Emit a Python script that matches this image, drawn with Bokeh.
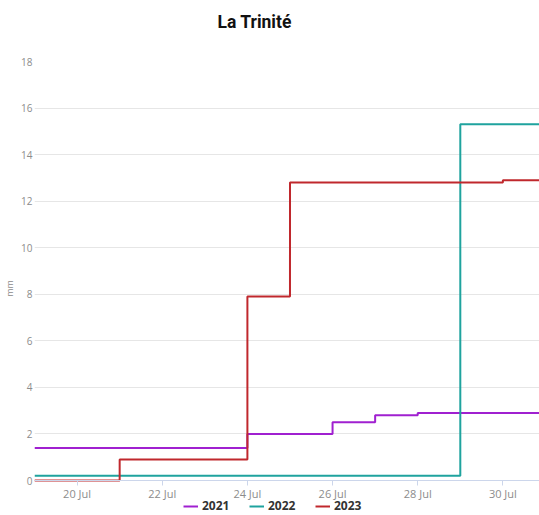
from datetime import datetime, timedelta
from bokeh.plotting import figure
from bokeh.models import (Range1d, FixedTicker, DatetimeTickFormatter, Legend, LegendItem, Title)
from bokeh.embed import file_html
from bokeh.resources import INLINE

# ---- data ----
dates = [datetime(2023, 7, d) for d in range(19, 32)]
rain_2021 = [1.4, 1.4, 1.4, 1.4, 1.4, 2.0, 2.0, 2.5, 2.8, 2.9, 2.9, 2.9, 2.9]
rain_2022 = [0.2, 0.2, 0.2, 0.2, 0.2, 0.2, 0.2, 0.2, 0.2, 0.2, 15.3, 15.3, 15.3]
rain_2023 = [0.0, 0.0, 0.9, 0.9, 0.9, 7.9, 12.8, 12.8, 12.8, 12.8, 12.8, 12.9, 12.9]
series_names = ["2021", "2022", "2023"]
series_colors = ["#a020d0", "#1fa39e", "#c0282d"]
tick_dates = [datetime(2023, 7, d) for d in (20, 22, 24, 26, 28, 30)]
y_ticks = [0, 2, 4, 6, 8, 10, 12, 14, 16, 18]
chart_title = "La Trinité"

x_start = datetime(2023, 7, 19)
x_end = x_start + timedelta(days=11.86)

# plot area extends below the zero line so the legend can sit inside it
frame_h = 454
plot_h = 419
y_max = 18
y_min = -(y_max * frame_h / plot_h - y_max)

p = figure(frame_width=505, frame_height=frame_h, output_backend="svg", toolbar_location=None,
           x_axis_type="datetime", title=None,
           x_range=Range1d(x_start, x_end), y_range=Range1d(y_min, y_max),
           min_border_left=34, min_border_right=0, min_border_top=61,
           min_border_bottom=0)
p.outline_line_color = None
p.background_fill_color = "white"
p.border_fill_color = "white"

renderers = []
for vals, col in zip([rain_2021, rain_2022, rain_2023], series_colors):
    r = p.step(dates, vals, mode="after", line_color=col, line_width=2)
    renderers.append(r)

spacer = Title(text=" ", text_font="Roboto", text_font_size="10px", standoff=17)
p.add_layout(spacer, "above")
title = Title(text=chart_title, text_font="Roboto", text_font_size="17.5px",
              text_font_style="bold", text_color="#111111", align="left",
              offset=183, standoff=0)
p.add_layout(title, "above")

xa = p.xaxis[0]
xa.fixed_location = 0
xa.ticker = FixedTicker(ticks=[d.timestamp() * 1000 for d in tick_dates])
xa.formatter = DatetimeTickFormatter(days="%d %b", months="%d %b", hours="%d %b")
xa.axis_line_color = "#ccd6eb"
xa.major_tick_line_color = "#ccd6eb"
xa.major_tick_out = 5
xa.major_tick_in = 0
xa.minor_tick_line_color = None
xa.major_label_standoff = 0
xa.major_label_text_font = "Open Sans"
xa.major_label_text_font_size = "11px"
xa.major_label_text_color = "#8c8c8c"

ya = p.yaxis[0]
ya.ticker = FixedTicker(ticks=y_ticks)
ya.axis_line_color = None
ya.major_tick_line_color = None
ya.major_tick_out = 0
ya.major_tick_in = 0
ya.minor_tick_line_color = None
ya.major_label_standoff = 2
ya.major_label_text_font = "Open Sans"
ya.major_label_text_font_size = "10px"
ya.major_label_text_color = "#8c8c8c"
ya.axis_label = "mm"
ya.axis_label_text_font = "Open Sans"
ya.axis_label_text_font_size = "9px"
ya.axis_label_text_font_style = "normal"
ya.axis_label_text_color = "#8c8c8c"
ya.axis_label_standoff = 2

p.xgrid.grid_line_color = None
p.ygrid.grid_line_color = "#e6e6e6"
p.ygrid.ticker = FixedTicker(ticks=y_ticks)

legend = Legend(items=[LegendItem(label=n, renderers=[r]) for n, r in zip(series_names, renderers)],
                orientation="horizontal", location=(149, 1))
legend.background_fill_alpha = 0
legend.border_line_alpha = 0
legend.padding = 0
legend.margin = 0
legend.spacing = 19
legend.label_standoff = 4
legend.label_width = 28
legend.glyph_width = 15
legend.glyph_height = 10
legend.label_height = 10
legend.label_text_font = "Open Sans"
legend.label_text_font_size = "12px"
legend.label_text_font_style = "bold"
legend.label_text_color = "#333333"
p.add_layout(legend)

open("out.html", "w").write(file_html(p, INLINE))
